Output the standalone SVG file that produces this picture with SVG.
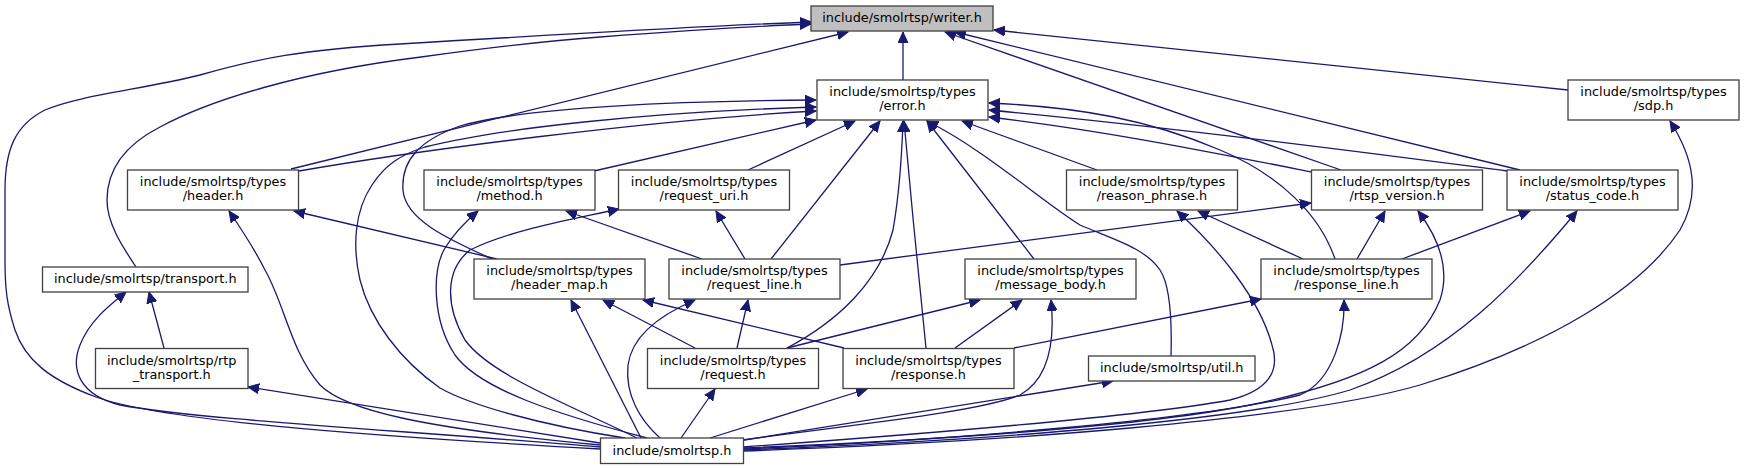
<svg xmlns="http://www.w3.org/2000/svg" width="1744" height="469" viewBox="0 0 1744 469">
<style>
.n rect{fill:#ffffff;stroke:#404040;stroke-width:1.3}
.n.cur rect{fill:#bfbfbf}
.n text{font-family:"DejaVu Sans","Liberation Sans",sans-serif;font-size:12.85px;fill:#000;text-anchor:middle}
#edges path{fill:none;stroke:#191970;stroke-width:1.3;marker-end:url(#ah)}
</style>
<defs>
<marker id="ah" markerUnits="userSpaceOnUse" markerWidth="12" markerHeight="11" refX="11" refY="5" orient="auto" viewBox="0 0 12 10">
<path d="M0,0 L11,5 L0,10 z" fill="#191970" stroke="#191970" stroke-width="1"/>
</marker>
</defs>
<rect width="1744" height="469" fill="#ffffff"/>
<g id="edges">
<!-- to writer.h -->
<path d="M903,80 L903,32"/>
<path d="M291,169 L848,32"/>
<path d="M136,267 C125,250 107,225 107,200 C107,170 125,145 160,127 C210,100 300,72 421,57 C500,46 560,40 600,37 C680,31 760,26 811,24"/>
<path d="M600,449 C350,435 160,420 96,397 C50,380 25,360 15,330 C7,305 5,290 5,260 L5,190 C5,150 15,125 45,110 C80,95 140,90 200,75 C260,58 300,50 400,44 C550,35 700,26 811,22"/>
<path d="M1341,170 L945,32"/>
<path d="M1520,170 L955,32"/>
<path d="M1568,90 L994,30"/>
<!-- to error.h -->
<path d="M492,259 C450,240 405,220 403,190 C401,160 420,140 460,126 C530,106 700,101 816,100"/>
<path d="M299,171 C420,150 650,120 816,111"/>
<path d="M625,438 C540,425 470,405 440,388 C400,360 370,320 360,280 C352,245 355,210 372,185 C385,165 400,155 425,147 C500,128 650,112 816,107"/>
<path d="M594,171 L816,120"/>
<path d="M748,170 L855,121"/>
<path d="M771,259 L880,121"/>
<path d="M787,348 C840,320 880,280 893,230 C900,190 902,150 903,121"/>
<path d="M926,348 C920,290 910,190 904,121"/>
<path d="M1034,259 L927,121"/>
<path d="M1171,356 C1172,320 1170,285 1160,270 C1145,248 1115,240 1080,225 C1040,200 985,150 927,121"/>
<path d="M1097,170 L962,121"/>
<path d="M1335,259 C1320,215 1280,175 1220,150 C1150,120 1080,107 989,103"/>
<path d="M1507,171 C1400,157 1200,130 989,110"/>
<path d="M1312,172 C1200,150 1100,130 989,117"/>
<!-- header.h -->
<path d="M497,259 L294,211"/>
<path d="M600,445 C420,428 345,410 320,385 C290,350 285,305 265,270 C255,250 242,230 229,211"/>
<!-- transport -->
<path d="M164,348 L149,292"/>
<path d="M600,447 C400,430 200,420 120,405 C80,395 70,370 80,345 C90,320 110,305 126,292"/>
<path d="M600,443 L248,387"/>
<!-- method -->
<path d="M647,438 C560,415 480,390 455,355 C432,320 432,270 445,248 C455,232 465,222 478,211"/>
<path d="M702,259 L566,211"/>
<!-- request_uri -->
<path d="M637,438 C570,405 490,375 465,340 C445,305 445,270 470,250 C510,230 570,220 619,209"/>
<path d="M745,259 L716,211"/>
<!-- header_map -->
<path d="M695,348 L603,300"/>
<path d="M844,348 L643,300"/>
<path d="M641,438 L571,300"/>
<!-- request_line -->
<path d="M737,348 L748,300"/>
<path d="M660,438 C640,420 625,395 628,365 C632,335 660,315 695,300"/>
<path d="M840,265 L1311,203"/>
<!-- message_body -->
<path d="M787,348 L980,300"/>
<path d="M955,348 L1022,300"/>
<path d="M743,440 C850,425 980,412 1020,395 C1050,378 1055,340 1051,300"/>
<!-- response_line -->
<path d="M1014,348 L1261,299"/>
<path d="M743,449 C950,440 1200,420 1300,395 C1335,380 1345,330 1344,300"/>
<path d="M1357,259 L1385,211"/>
<path d="M1303,259 L1198,211"/>
<path d="M1402,259 L1530,211"/>
<!-- smolrtsp to right-side nodes -->
<path d="M743,447 C950,432 1150,415 1230,400 C1270,390 1280,370 1272,345 C1260,300 1220,250 1177,211"/>
<path d="M743,448 C950,440 1150,425 1250,405 C1370,380 1420,350 1440,300 C1450,270 1440,240 1418,211"/>
<path d="M743,450 C1000,440 1250,420 1350,390 C1450,355 1520,280 1577,211"/>
<path d="M743,451 C1000,442 1300,420 1420,385 C1550,345 1640,290 1680,230 C1700,195 1695,160 1670,121"/>
<path d="M744,440 L1113,381"/>
<path d="M681,438 L715,389"/>
<path d="M710,438 L867,389"/>
</g>
<g id="writer" class="n cur"><rect x="811" y="6" width="182" height="25"/><text x="902" y="22">include/smolrtsp/writer.h</text></g>
<g id="error" class="n"><rect x="817" y="80" width="171" height="40"/><text x="902.5" y="96">include/smolrtsp/types</text><text x="902.5" y="110">/error.h</text></g>
<g id="sdp" class="n"><rect x="1568" y="80" width="171" height="40"/><text x="1653.5" y="96">include/smolrtsp/types</text><text x="1653.5" y="110">/sdp.h</text></g>
<g id="header" class="n"><rect x="127.5" y="170" width="171" height="40"/><text x="213" y="186">include/smolrtsp/types</text><text x="213" y="200">/header.h</text></g>
<g id="method" class="n"><rect x="424" y="170" width="171" height="40"/><text x="509.5" y="186">include/smolrtsp/types</text><text x="509.5" y="200">/method.h</text></g>
<g id="request_uri" class="n"><rect x="618.5" y="170" width="171" height="40"/><text x="704" y="186">include/smolrtsp/types</text><text x="704" y="200">/request_uri.h</text></g>
<g id="reason_phrase" class="n"><rect x="1066.5" y="170" width="171" height="40"/><text x="1152" y="186">include/smolrtsp/types</text><text x="1152" y="200">/reason_phrase.h</text></g>
<g id="rtsp_version" class="n"><rect x="1311.5" y="170" width="171" height="40"/><text x="1397" y="186">include/smolrtsp/types</text><text x="1397" y="200">/rtsp_version.h</text></g>
<g id="status_code" class="n"><rect x="1507" y="170" width="171" height="40"/><text x="1592.5" y="186">include/smolrtsp/types</text><text x="1592.5" y="200">/status_code.h</text></g>
<g id="transport" class="n"><rect x="42.5" y="267" width="205.5" height="25"/><text x="145.25" y="283">include/smolrtsp/transport.h</text></g>
<g id="header_map" class="n"><rect x="474" y="259" width="171" height="40"/><text x="559.5" y="275">include/smolrtsp/types</text><text x="559.5" y="289">/header_map.h</text></g>
<g id="request_line" class="n"><rect x="669" y="259" width="171" height="40"/><text x="754.5" y="275">include/smolrtsp/types</text><text x="754.5" y="289">/request_line.h</text></g>
<g id="message_body" class="n"><rect x="965" y="259" width="171" height="40"/><text x="1050.5" y="275">include/smolrtsp/types</text><text x="1050.5" y="289">/message_body.h</text></g>
<g id="response_line" class="n"><rect x="1261" y="259" width="171" height="40"/><text x="1346.5" y="275">include/smolrtsp/types</text><text x="1346.5" y="289">/response_line.h</text></g>
<g id="rtp_transport" class="n"><rect x="95.5" y="348.5" width="152.5" height="40"/><text x="171.75" y="364.5">include/smolrtsp/rtp</text><text x="171.75" y="378.5">_transport.h</text></g>
<g id="request" class="n"><rect x="647.5" y="348.5" width="171" height="40"/><text x="733" y="364.5">include/smolrtsp/types</text><text x="733" y="378.5">/request.h</text></g>
<g id="response" class="n"><rect x="843" y="348.5" width="171" height="40"/><text x="928.5" y="364.5">include/smolrtsp/types</text><text x="928.5" y="378.5">/response.h</text></g>
<g id="util" class="n"><rect x="1088.5" y="356" width="166.5" height="25"/><text x="1171.75" y="372">include/smolrtsp/util.h</text></g>
<g id="smolrtsp" class="n"><rect x="600.5" y="438" width="143" height="25.5"/><text x="672" y="454.5">include/smolrtsp.h</text></g>
</svg>
